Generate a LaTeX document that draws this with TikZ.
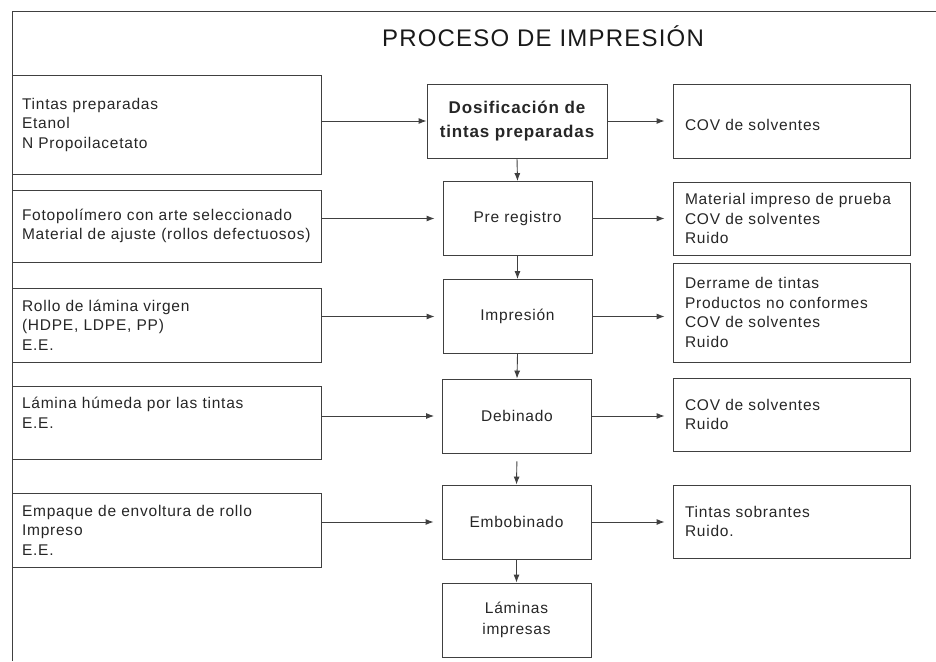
\documentclass[tikz,border=0pt]{standalone}
\usepackage{fontspec}
\setmainfont{Liberation Sans}[LetterSpace=5]
\usepackage{tikz}
\usetikzlibrary{
  arrows.meta,
  positioning
}

\begin{document}
\begin{tikzpicture}[x=1pt,y=-1pt,
  linea/.style={draw=black!75, line width=0.9pt},
  entrada/.style={linea, text=black!85, minimum width=309pt, text width=289pt,
    inner xsep=10pt, align=left, minimum height=#1,
    font=\fontsize{15.5}{19.5}\selectfont},
  entrada/.default=74pt,
  etapa/.style={linea, text=black!85, minimum width=149pt, minimum height=74pt,
    align=center, font=\fontsize{15.5}{21}\selectfont},
  salida/.style={linea, text=black!85, minimum width=237pt, text width=213pt,
    inner xsep=12pt, align=left, minimum height=#1,
    font=\fontsize{15.5}{19.5}\selectfont},
  salida/.default=73pt,
  flecha/.style={linea, -{Latex[length=8pt,width=6pt]}},
  hueco/.style={shorten >=8pt}
]
\useasboundingbox (0,0) rectangle (936,661);

% Frame
\draw[linea] (12,661) -- (12,11) -- (936,11);

% Title
\node[text=black!90, font=\fontsize{24}{28}\selectfont] (titulo) at (543,36) {PROCESO DE IMPRESIÓN};

% Inputs
\node[entrada=99pt] (e1) at (166.5,124.5) {Tintas preparadas\\Etanol\\N Propoilacetato};
\node[entrada=72pt] (e2) at (166.5,226) {Fotopolímero con arte seleccionado\\Material de ajuste (rollos defectuosos)};
\node[entrada] (e3) at (166.5,325) {Rollo de lámina virgen\\(HDPE, LDPE, PP)\\E.E.};
\node[entrada=73pt] (e4) at (166.5,422.5) {Lámina húmeda por las tintas\\E.E.\\~};
\node[entrada] (e5) at (166.5,530) {Empaque de envoltura de rollo\\Impreso\\E.E.};

% Process steps
\node[etapa, minimum width=180pt, font=\fontsize{17}{24}\selectfont\bfseries] (p1) at (517,121) {Dosificación de\\tintas preparadas};
\node[etapa] (p2) at (517.5,218.5) {Pre registro};
\node[etapa] (p3) at (517.5,316.5) {Impresión};
\node[etapa] (p4) at (517,416) {Debinado};
\node[etapa] (p5) at (516.5,522) {Embobinado};
\node[etapa] (p6) at (516.5,620) {Láminas\\impresas};

% Outputs
\node[salida=74pt] (s1) at (791.5,121) {~\\COV de solventes};
\node[salida] (s2) at (791.5,218.5) {Material impreso de prueba\\COV de solventes\\Ruido};
\node[salida=99pt] (s3) at (791.5,312.5) {Derrame de tintas\\Productos no conformes\\COV de solventes\\Ruido};
\node[salida] (s4) at (791.5,414.5) {COV de solventes\\Ruido};
\node[salida] (s5) at (791.5,521.5) {Tintas sobrantes\\Ruido.};

% Inputs into the steps
\draw[flecha] (e1.east |- p1.west) -- (p1.west);
\foreach \i in {2,...,5}
  \draw[flecha, hueco] (e\i.east |- p\i.west) -- (p\i.west);

% Steps into the outputs
\foreach \i in {1,...,5}
  \draw[flecha, hueco] (p\i.east) -- (s\i.west |- p\i.east);

% Main line
\draw[flecha] (p1.south) -- (p2.north);
\draw[flecha] (p2.south) -- (p3.north);
\draw[flecha] (p3.south) -- (p4.north);
\draw[flecha, shorten <=8pt] (p4.south) -- (p5.north);
\draw[flecha] (p5.south) -- (p6.north);

\end{tikzpicture}
\end{document}
